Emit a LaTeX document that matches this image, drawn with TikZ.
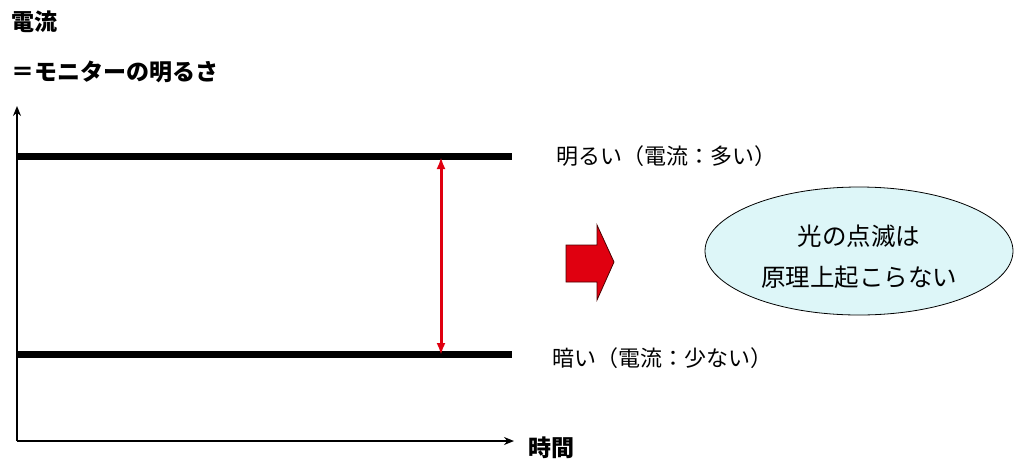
\documentclass[tikz,border=0pt]{standalone}
\usepackage{fontspec}
\setmainfont{Noto Sans CJK JP}
\usetikzlibrary{arrows.meta,shapes.geometric}
\definecolor{lightcyan}{HTML}{DDF6F8}
\definecolor{arrowred}{HTML}{E00010}
\tikzset{
  lbl/.style={inner sep=0pt, font=\fontsize{22}{26}\selectfont},
  title/.style={inner sep=0pt, anchor=west, font=\fontsize{23}{27}\selectfont\bfseries},
  level/.style={line width=7pt},
  axis/.style={line width=1.4pt, -{Stealth[length=10pt,width=8pt]}},
  span/.style={arrowred, line width=3pt, {Latex[length=12pt,width=9pt]}-{Latex[length=12pt,width=9pt]}},
  bubble/.style={ellipse, draw=black, line width=0.8pt, fill=lightcyan, minimum width=308pt, minimum height=128pt},
  bubbletext/.style={inner sep=0pt, align=center, font=\fontsize{24.5}{41}\selectfont},
}
\begin{document}
\begin{tikzpicture}[x=1pt,y=1pt]
\useasboundingbox (0,0) rectangle (1015,-459);
% titles
\node[title] (t1) at (11,-22) {電流};
\node[title] (t2) at (11,-72) {＝モニターの明るさ};
% axes
\coordinate (o) at (17,-441);
\coordinate (ytop) at (17,-106);
\coordinate (xend) at (514,-441);
\draw[axis] (o) -- (ytop);
\draw[axis] (o) -- (xend);
\node[title] (time) at (528,-448) {時間};
% levels
\coordinate (h1) at (17,-156);
\coordinate (h2) at (512,-156);
\coordinate (l1) at (17,-354);
\coordinate (l2) at (512,-354);
\draw[level] (h1) -- (h2);
\draw[level] (l1) -- (l2);
\coordinate (a1) at (441,-157);
\coordinate (a2) at (441,-355);
\draw[span] (a1) -- (a2);
% labels
\node[lbl, anchor=west] (bright) at (556,-156) {明るい（電流：多い）};
\node[lbl, anchor=west] (dark) at (552,-358) {暗い（電流：少ない）};
% block arrow
\draw[fill=arrowred, draw=black!70!red, line width=0.8pt, line join=miter]
  (566,-245) -- (597,-245) -- (597,-225) -- (614,-262) -- (597,-300) -- (597,-282) -- (566,-282) -- cycle;
% bubble
\node[bubble] (b) at (859,-251) {};
\node[bubbletext] (bt) at ([yshift=-6pt]b.center) {光の点滅は\\原理上起こらない};
\end{tikzpicture}
\end{document}
